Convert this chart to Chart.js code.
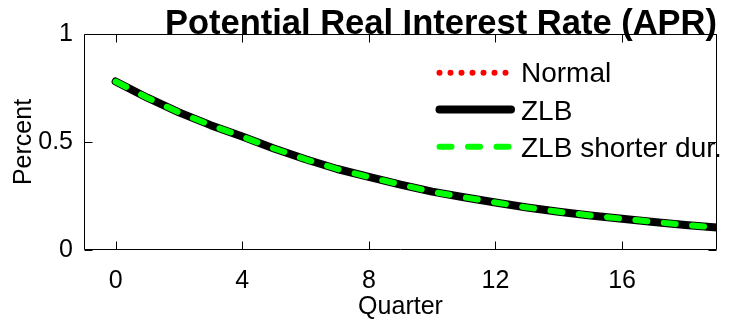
<!DOCTYPE html>
<html>
<head>
<meta charset="utf-8">
<script src="https://cdn.jsdelivr.net/npm/chart.js@4/dist/chart.umd.min.js"></script>
<style>
    html, body { margin: 0; padding: 0; background: #fff; }
    #wrap { width: 729px; height: 326px; }
</style>
</head>
<body>
<div id="wrap"><canvas id="chart" width="729" height="326"></canvas></div>
<script>
(function () {
    "use strict";

    // Data
    const quarters = [0, 1, 2, 3, 4, 5, 6, 7, 8, 9, 10, 11, 12, 13, 14, 15, 16, 17, 18, 19];
    const normal = [0.78, 0.705, 0.637, 0.578, 0.525, 0.47, 0.42, 0.375, 0.338, 0.303, 0.27, 0.244, 0.22, 0.197, 0.177, 0.16, 0.145, 0.13, 0.116, 0.104];
    const zlb = [0.78, 0.705, 0.637, 0.578, 0.525, 0.47, 0.42, 0.375, 0.338, 0.303, 0.27, 0.244, 0.22, 0.197, 0.177, 0.16, 0.145, 0.13, 0.116, 0.104];
    const zlbShorter = [0.78, 0.705, 0.637, 0.578, 0.525, 0.47, 0.42, 0.375, 0.338, 0.303, 0.27, 0.244, 0.22, 0.197, 0.177, 0.16, 0.145, 0.13, 0.116, 0.104];
    const seriesNames = ["Normal", "ZLB", "ZLB shorter dur."];
    const xTicks = [0, 4, 8, 12, 16];
    const yTicks = [0, 0.5, 1];
    const yTickLabels = ["0", "0.5", "1"];
    const chartTitle = "Potential Real Interest Rate (APR)";

    const FONT = "'Liberation Sans', Arial, Helvetica, sans-serif";

    const toPoints = (vals) => vals.map((v, i) => ({ x: quarters[i], y: v }));

    // Box with inward ticks, like the original plot
    const boxPlugin = {
        id: "box",
        beforeDatasetsDraw(chart) {
            const { ctx, chartArea } = chart;
            const l = Math.round(chartArea.left) + 0.5;
            const r = Math.round(chartArea.right) - 0.5;
            const t = Math.round(chartArea.top) + 0.5;
            const b = Math.round(chartArea.bottom) - 0.5;
            const len = 8;
            ctx.save();
            ctx.strokeStyle = "#000";
            ctx.lineWidth = 1;
            ctx.beginPath();
            ctx.rect(l, t, r - l, b - t);
            chart.scales.x.ticks.forEach((tk) => {
                const px = Math.round(chart.scales.x.getPixelForValue(tk.value)) + 0.5;
                ctx.moveTo(px, b);
                ctx.lineTo(px, b - len);
                ctx.moveTo(px, t);
                ctx.lineTo(px, t + len);
            });
            chart.scales.y.ticks.forEach((tk) => {
                const py = Math.round(chart.scales.y.getPixelForValue(tk.value)) + 0.5;
                ctx.moveTo(l, py);
                ctx.lineTo(l + len, py);
                ctx.moveTo(r, py);
                ctx.lineTo(r - len, py);
            });
            ctx.stroke();
            ctx.restore();
        },
    };

    // Title and legend drawn on top, overlapping the box as in the picture
    const overlayPlugin = {
        id: "overlay",
        afterDraw(chart) {
            const { ctx, chartArea } = chart;
            ctx.save();
            ctx.fillStyle = "#000";
            ctx.font = "bold 34.5px " + FONT;
            ctx.textAlign = "right";
            ctx.textBaseline = "alphabetic";
            ctx.fillText(chartTitle, chartArea.right, chartArea.top);

            const lineRows = [72.7, 109.5, 146.7];
            const textRows = [74, 112, 149];
            ctx.font = "28px " + FONT;
            ctx.textAlign = "left";
            ctx.textBaseline = "middle";
            chart.data.datasets.forEach((ds, i) => {
                ctx.save();
                ctx.strokeStyle = ds.borderColor;
                ctx.lineWidth = ds.borderWidth;
                ctx.lineCap = "round";
                ctx.setLineDash(ds.borderDash || []);
                ctx.beginPath();
                ctx.moveTo(439.5, lineRows[i]);
                ctx.lineTo(i === 0 ? 506 : 511, lineRows[i]);
                ctx.stroke();
                ctx.restore();
                ctx.fillText(ds.label, 521, textRows[i]);
            });
            ctx.restore();
        },
    };

    new Chart(document.getElementById("chart"), {
        type: "line",
        data: {
            datasets: [
                {
                    label: seriesNames[0],
                    data: toPoints(normal),
                    borderColor: "#ff0000",
                    borderWidth: 6,
                    borderDash: [0, 11],
                    borderCapStyle: "round",
                    borderJoinStyle: "round",
                    pointRadius: 0,
                    order: 3,
                },
                {
                    label: seriesNames[1],
                    data: toPoints(zlb),
                    borderColor: "#000000",
                    borderWidth: 8,
                    borderCapStyle: "round",
                    borderJoinStyle: "round",
                    pointRadius: 0,
                    order: 2,
                },
                {
                    label: seriesNames[2],
                    data: toPoints(zlbShorter),
                    borderColor: "#00ff00",
                    borderWidth: 6,
                    borderDash: [12, 16.5],
                    borderCapStyle: "round",
                    borderJoinStyle: "round",
                    pointRadius: 0,
                    order: 1,
                },
            ],
        },
        options: {
            responsive: false,
            animation: false,
            events: [],
            layout: {
                padding: { top: 34, right: 12, bottom: 0, left: 0 },
            },
            plugins: {
                legend: { display: false },
                tooltip: { enabled: false },
                title: { display: false },
            },
            scales: {
                x: {
                    type: "linear",
                    min: -1,
                    max: 19,
                    grid: { display: false },
                    border: { display: false },
                    afterBuildTicks: (scale) => {
                        scale.ticks = xTicks.map((v) => ({ value: v }));
                    },
                    afterFit: (scale) => {
                        scale.height = 76;
                    },
                    ticks: {
                        color: "#000",
                        font: { family: FONT, size: 25 },
                        padding: 8,
                        maxRotation: 0,
                        callback: (v) => String(v),
                    },
                    title: {
                        display: true,
                        text: "Quarter",
                        color: "#000",
                        font: { family: FONT, size: 25 },
                        padding: { top: 0, bottom: 4 },
                    },
                },
                y: {
                    min: 0,
                    max: 1,
                    grid: { display: false },
                    border: { display: false },
                    afterBuildTicks: (scale) => {
                        scale.ticks = yTicks.map((v) => ({ value: v }));
                    },
                    afterFit: (scale) => {
                        scale.width = 84;
                    },
                    ticks: {
                        color: "#000",
                        font: { family: FONT, size: 25 },
                        padding: 3,
                        callback: (v) => yTickLabels[yTicks.indexOf(v)],
                    },
                    title: {
                        display: true,
                        text: "Percent",
                        color: "#000",
                        font: { family: FONT, size: 25 },
                        padding: { top: 9, bottom: 0 },
                    },
                },
            },
        },
        plugins: [boxPlugin, overlayPlugin],
    });
})();
</script>
</body>
</html>
